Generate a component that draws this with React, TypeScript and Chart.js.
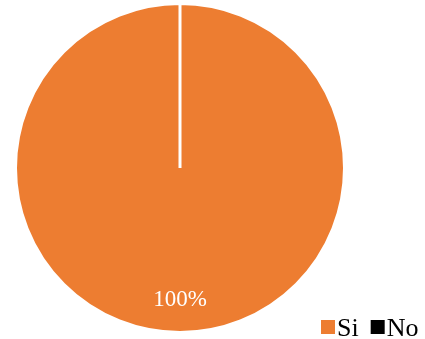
import React, { useEffect, useRef } from "react";
import { Chart, registerables } from "chart.js";

Chart.register(...registerables);

const categories = ["Si", "No"];
const values = [100, 0];
const percentLabels = ["100%", "0%"];
const colors = ["#ED7D31", "#000000"];

const labelPlugin = {
  id: "sliceLabels",
  afterDatasetsDraw(chart: any) {
    const ctx = chart.ctx;
    const meta = chart.getDatasetMeta(0);
    ctx.save();
    ctx.font = "23px 'Liberation Serif', 'Times New Roman', serif";
    ctx.fillStyle = "#ffffff";
    ctx.textAlign = "center";
    ctx.textBaseline = "middle";
    meta.data.forEach((arc: any, i: number) => {
      if (!values[i]) return;
      const mid = (arc.startAngle + arc.endAngle) / 2;
      const r = arc.outerRadius * 0.8;
      ctx.fillText(percentLabels[i], arc.x + Math.cos(mid) * r, arc.y + Math.sin(mid) * r);
    });
    ctx.restore();
  },
};

const legendPlugin = {
  id: "customLegend",
  afterDraw(chart: any) {
    const ctx = chart.ctx;
    ctx.save();
    ctx.font = "26px 'Liberation Serif', 'Times New Roman', serif";
    ctx.textBaseline = "alphabetic";
    ctx.textAlign = "left";
    let x = 321;
    const box = 14;
    const baseline = 336;
    categories.forEach((c, i) => {
      ctx.fillStyle = colors[i];
      ctx.fillRect(x, 320, box, box);
      x += box + 2;
      ctx.fillStyle = "#000000";
      ctx.fillText(c, x, baseline);
      x += ctx.measureText(c).width + 12;
    });
    ctx.restore();
  },
};

export default function App() {
  const ref = useRef<HTMLCanvasElement>(null);
  useEffect(() => {
    document.body.style.margin = "0";
    const chart = new Chart(ref.current as HTMLCanvasElement, {
      type: "pie",
      data: {
        labels: categories,
        datasets: [
          {
            data: values,
            backgroundColor: colors,
            borderColor: "#ffffff",
            borderWidth: 3,
          },
        ],
      },
      options: {
        animation: false,
        responsive: false,
        maintainAspectRatio: false,
        layout: { padding: { left: 14, right: 79, top: 2, bottom: 5 } },
        plugins: {
          legend: { display: false },
          tooltip: { enabled: false },
        },
      },
      plugins: [labelPlugin, legendPlugin],
    });
    return () => chart.destroy();
  }, []);
  return (
    <div style={{ position: "absolute", left: 0, top: 0, width: 425, height: 339, background: "#fff" }}>
      <canvas ref={ref} width={425} height={339} style={{ width: 425, height: 339 }} />
    </div>
  );
}
